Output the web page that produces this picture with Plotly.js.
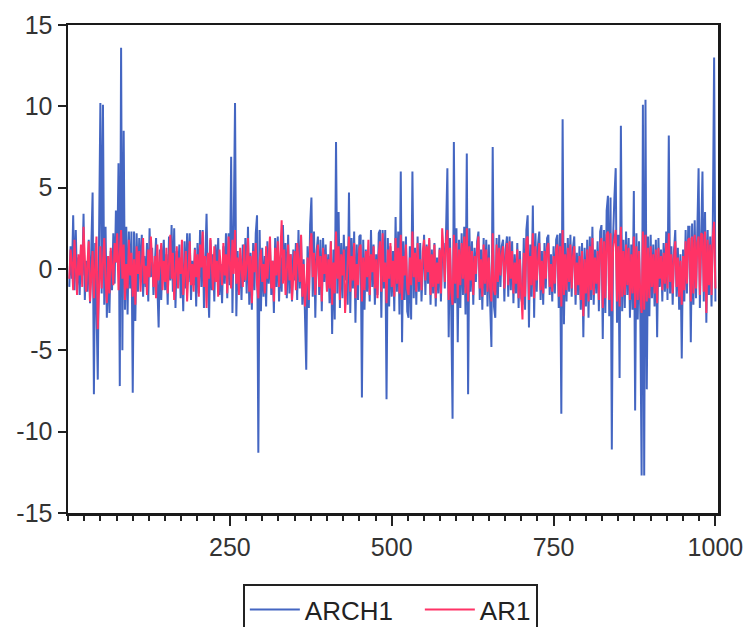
<!DOCTYPE html>
<html>
<head>
<meta charset="utf-8">
<script src="https://cdn.plot.ly/plotly-3.0.1.min.js"></script>
<style>
  html, body { margin: 0; padding: 0; background: #ffffff; }
  #chart { width: 751px; height: 627px; }
</style>
</head>
<body>
<div id="chart"></div>
<script>
// ARCH(1) simulated series, every second observation of 1..1000
const ARCH1 = [
  -1.1, 1.4, -0.6, 3.3, -1.3,  2.4, -1.0, 0.7, -1.6, 1.2,  -0.4, 3.4, -1.9, 0.5, -1.4,  1.8, -2.1, 0.9, 4.7, -7.7,  1.6, -2.4, -6.8, 2.1, 10.2,
  -1.5, 10.1, -2.2, 2.6, -3.0,  0.8, -2.7, 1.1, -1.3, 2.2,  -0.9, 3.6, 0.4, 6.5, -7.2,  13.6, -5.0, 8.5, -2.5, 2.6,  -2.8, 2.3, -1.2, 2.3, -7.6,
  2.3, -3.2, 2.2, -1.4, 1.9,  -0.6, 2.1, -1.7, 0.8, -1.1,  1.6, -2.0, 2.5, -0.5, 1.3,  -1.6, 0.4, 1.9, -1.0, -3.6,  1.2, -1.9, 0.7, 1.8, -1.3,
  0.9, -2.2, 2.0, -0.7, 2.7,  -1.4, 2.5, -2.4, 1.1, -0.3,  1.5, -1.8, 0.6, -2.6, 1.7,  -1.2, 2.2, -0.8, 2.2, -1.9,  0.5, -1.0, 1.3, -2.3, 1.6,
  -1.5, 2.4, -1.1, 2.4, -2.4,  1.2, 3.4, -0.6, -3.0, 1.8,  -1.3, 0.9, -2.0, 1.5, -0.7,  1.9, -1.6, 0.3, -2.1, 1.4,  -0.9, 2.2, -1.8, 2.2, -1.0,
  6.9, -2.7, 2.6, 10.2, -2.9,  1.1, -1.4, 0.6, -1.9, 1.5,  -0.8, 1.9, -1.5, 2.6, -2.2,  1.0, -2.5, 1.6, -1.3, 2.2,  3.3, -11.3, 2.4, -2.6, 1.3,
  -1.7, 0.8, -2.3, 1.7, -0.9,  1.4, -1.6, 0.5, -2.7, 1.9,  -1.1, 2.0, -2.0, 0.7, -1.4,  2.7, -0.6, 1.6, -1.8, 2.1,  -1.5, 0.9, -2.0, 1.2, -0.7,
  1.6, -1.9, 2.4, -1.2, 2.0,  -2.2, 0.6, -3.2, -6.2, 1.4,  -2.4, 2.7, 4.4, -1.7, 2.3,  -3.0, 1.1, 2.0, -1.6, 1.8,  -2.6, 1.9, -0.8, 1.5, -1.3,
  0.9, -2.1, 1.7, -4.0, 1.2,  -3.1, 7.8, -1.5, 3.5, -2.4,  1.6, -1.8, 2.1, -0.7, 1.4,  -2.2, 4.7, -2.7, 1.9, -1.2,  2.3, -3.3, 1.5, -1.9, 2.0,
  2.1, -7.9, 1.8, -2.5, 1.2,  -1.4, 0.8, -2.0, 2.4, -1.1,  1.5, -2.2, 0.9, -1.6, 2.2,  2.4, -3.0, 2.4, -1.2, 2.4,  -8.0, 1.9, -2.3, 1.4, -1.7,
  1.1, -2.6, 3.2, -1.4, 2.3,  -2.8, 6.0, -4.5, 1.7, -1.9,  2.0, -2.6, -3.0, 1.4, -3.1,  6.0, -1.8, 1.3, -2.2, 2.0,  -1.4, 1.6, -2.0, 0.8, 2.1,
  -1.6, 1.5, -0.9, 1.8, -2.2,  1.2, -1.5, 1.6, -2.3, 0.7,  -1.5, 1.3, -2.0, 0.9, 1.6,  -1.2, 2.4, 6.2, -4.2, 1.9,  -2.6, -9.2, 7.8, -2.1, 2.5,
  -4.5, 1.8, -2.4, 2.2, -1.6,  2.6, -2.8, 7.1, -7.7, 2.5,  -1.4, 1.7, -2.2, 1.3, -0.8,  1.7, 2.3, -1.9, 1.2, -2.5,  1.9, -1.6, 1.8, -2.3, 1.5,
  -2.0, -4.8, 7.5, -2.3, -3.0,  1.9, -1.8, 2.1, -1.1, 1.4,  1.8, -2.0, 1.2, 2.0, -1.7,  2.0, -1.3, 1.7, -2.1, 0.9,  -1.5, 1.6, -2.4, 1.1, -1.8,
  -2.2, 1.9, -2.5, 2.4, 3.3,  -3.6, 1.5, -1.7, 3.9, -3.0,  2.2, -1.4, 1.5, 2.3, -1.9,  1.1, -2.2, 1.6, -1.2, 1.9,  2.1, -1.6, 0.9, -2.0, 1.4,
  -1.5, 1.8, 2.1, -2.4, 2.2,  -8.9, 9.2, -3.4, 1.6, -2.0,  1.9, -1.4, 2.1, -1.7, 1.3,  2.0, -2.2, 1.0, -1.6, 1.4,  -2.5, 1.6, -4.2, 1.3, -2.3,
  1.8, -3.0, 2.0, -1.9, 2.6,  -2.2, 1.2, -1.5, 1.7, -2.6,  2.3, 2.7, -4.3, 2.4, -2.7,  3.6, 4.5, -2.9, 4.4, -11.1,  2.0, 4.4, 6.2, -3.3, 2.1,
  -6.7, 8.8, -2.6, 1.8, -2.4,  2.3, -1.6, 1.9, -3.0, 1.5,  -2.5, 4.8, -8.7, 2.2, -3.1,  1.7, -2.8, -12.7, 10.1, -12.7,  10.4, -7.4, 2.0, -2.9, 2.1,
  -1.8, 1.5, -2.3, 1.8, -4.2,  1.9, -1.1, 1.2, -2.0, 1.6,  -1.4, 2.3, -1.9, 8.2, -1.5,  1.4, -2.2, 1.1, 2.4, -1.7,  1.3, -2.5, 0.9, -5.5, 1.2,
  -2.0, 2.4, -1.5, 2.6, 2.6,  -4.5, 2.8, -2.2, 3.0, -1.8,  2.2, 6.2, -2.4, 3.1, 6.0,  -2.0, 3.5, -3.3, 2.4, -1.6,  2.0, -2.3, 2.7, 13.0, -2.0
];

// AR(1) simulated series, same observations
const AR1 = [
  -0.6, 1.2, 0.4, -1.3, 1.8,  0.2, -1.6, 0.9, -0.4, 1.5,  -1.1, 2.6, 0.8, -1.4, 0.3,  1.7, -2.0, -0.5, 1.1, -1.8,  0.6, 2.0, -3.7, -0.9, 1.4,
  -1.2, 0.5, 1.9, -0.7, -2.1,  0.8, -1.5, 1.3, 0.1, -1.0,  1.6, 0.4, 2.2, -1.3, 0.9,  2.4, -0.6, 1.5, -1.9, 0.3,  -1.2, 1.8, -0.4, 1.0, -1.7,
  0.6, -2.2, 1.4, -0.3, 1.1,  -1.4, 0.7, 1.9, -0.9, 0.2,  -1.6, 1.2, -0.5, 2.0, 0.4,  -1.1, 0.8, -1.8, 1.5, -0.7,  0.3, 1.6, -1.3, 0.5, -0.8,
  1.3, -1.5, 0.9, 2.1, -0.6,  1.0, -1.9, 0.4, 1.4, -1.2,  0.7, -0.3, 1.8, -1.6, 0.2,  1.1, -2.0, 0.6, 1.7, -1.0,  0.3, -1.4, 1.2, -0.5, 0.9,
  -1.7, 1.5, 0.1, 2.3, -1.1,  0.8, -2.4, 1.0, -0.6, 1.9,  0.3, -1.3, 1.4, -0.8, 0.5,  -1.7, 1.2, 0.2, -1.0, 1.6,  -0.4, 0.9, -1.5, 2.0, 0.6,
  -1.2, 1.8, -0.3, 2.4, -0.9,  0.7, -1.6, 1.3, 0.2, -1.1,  1.5, -0.7, 0.4, 1.9, -1.4,  0.8, -2.1, 1.1, -0.2, 1.6,  -1.0, -1.8, 0.5, 1.2, -0.8,
  0.3, -1.5, 1.4, -0.6, 1.0,  2.0, -1.2, 0.5, -2.0, 1.3,  -0.4, 1.7, -1.1, 0.6, 3.0,  -0.9, 1.2, -1.6, 0.4, 1.5,  -0.7, 0.9, -1.9, 0.2, 1.1,
  -1.3, 1.6, 0.5, -0.8, 2.1,  -1.7, 0.3, -2.3, -1.0, 0.7,  -1.9, 1.4, 2.2, -0.5, 1.0,  -1.6, 0.4, 1.5, -1.1, 0.8,  -2.0, 1.3, -0.3, 0.9, -1.4,
  0.6, -1.2, 1.7, -2.2, 0.4,  -1.5, 2.3, -0.6, 1.4, -1.9,  0.9, -0.4, 1.2, -2.7, -1.1,  0.5, 2.0, -1.4, 0.8, -0.7,  1.6, -1.8, 0.3, -1.0, 1.3,
  1.5, -2.0, 0.7, -1.3, 1.1,  -0.5, 1.8, -1.6, 0.9, -0.2,  1.4, -1.2, 0.6, -1.8, 1.0,  1.7, -1.4, 2.2, -0.8, 0.4,  -2.1, 1.2, -0.6, 1.6, -1.1,
  0.5, -1.7, 1.9, -0.9, 1.3,  -1.5, 2.1, -1.9, 0.8, -0.4,  1.5, -1.2, -1.6, 0.7, -1.0,  2.3, -0.5, 1.0, -1.4, 1.6,  -0.8, 0.6, -1.3, 1.1, 1.8,
  -0.7, 1.4, -0.2, 1.9, -1.6,  0.9, -1.1, 1.5, -1.8, 0.4,  -0.9, 1.2, -1.5, 2.5, 1.1,  -0.8, 1.7, 2.4, -1.9, 1.3,  -1.4, -2.2, 2.1, -0.9, 1.6,
  -1.8, 1.2, -1.0, 1.6, -0.6,  2.0, -1.5, 2.5, -2.0, 1.4,  -0.7, 1.1, -1.6, 0.8, -0.3,  1.3, 2.0, -1.2, 0.6, -1.7,  1.5, -0.9, 1.2, -1.4, 0.7,
  -1.1, -2.0, 2.2, -1.3, -1.6,  1.5, -0.8, 1.3, -0.4, 0.9,  1.4, -1.2, 0.5, 1.6, -1.0,  1.7, -0.6, 1.1, -1.5, 0.4,  -0.9, 1.2, -1.8, 0.6, -1.3,
  -3.1, 1.0, -1.7, 1.8, 2.0,  -1.9, 0.8, -1.0, 2.2, -1.8,  1.4, -0.7, 0.9, 1.6, -1.3,  0.5, -1.5, 1.1, -0.6, 1.3,  1.6, -1.1, 0.3, -1.4, 0.8,
  -0.9, 1.2, 1.5, -1.7, 1.4,  -2.3, 2.4, -1.6, 0.9, -1.3,  1.3, -0.8, 1.5, -1.2, 0.7,  1.4, -1.6, 0.4, -1.0, 0.8,  -1.9, 1.1, -2.9, 0.6, -1.5,
  1.2, -2.0, 1.4, -1.3, 1.9,  -1.6, 0.7, -0.9, 1.1, -1.9,  1.6, 1.9, -2.4, 1.7, -1.8,  2.1, 2.3, -1.9, 2.2, -2.6,  1.3, 2.0, 2.4, -2.0, 1.4,
  -2.3, 2.6, -1.7, 1.1, -1.6,  1.5, -1.0, 1.3, -1.9, 0.9,  -1.5, 2.0, -2.4, 1.4, -1.9,  1.1, -1.7, -2.7, 2.3, -2.5,  2.1, -2.0, 1.3, -1.8, 1.4,
  -1.1, 0.9, -1.5, 1.2, -2.1,  1.3, -0.6, 0.8, -1.3, 1.0,  -0.9, 1.6, -1.2, 2.2, -0.8,  0.9, -1.5, 0.6, 1.7, -1.1,  0.7, -1.7, 0.5, -2.2, 0.8,
  -1.3, 1.7, -0.9, 1.8, 1.9,  -2.0, 2.0, -1.5, 2.1, -1.2,  1.6, 2.0, -1.6, 2.2, 2.1,  -1.4, 2.3, -2.7, 1.8, -1.0,  1.5, -1.6, 2.0, 2.9, -1.2
];

// tick positions and labels
const xTickVals = [250, 500, 750, 1000];
const xTickText = ['250', '500', '750', '1000'];
const yTickVals = [-15, -10, -5, 0, 5, 10, 15];
const yTickText = ['-15', '-10', '-5', '0', '5', '10', '15'];

// observation number for each stored value
const obs = n => Array.from({ length: n }, (_, i) => (i + 1) * 1000 / n);

const traces = [
  {
    type: 'scatter', mode: 'lines', name: 'ARCH1',
    x: obs(ARCH1.length), y: ARCH1,
    line: { color: '#4466C2', width: 2 },
    legendwidth: 110
  },
  {
    type: 'scatter', mode: 'lines', name: 'AR1',
    x: obs(AR1.length), y: AR1,
    line: { color: '#FF3366', width: 2 }
  }
];

const axisFont = { family: 'Liberation Sans, Arial, sans-serif', size: 25, color: '#333333' };

const layout = {
  width: 751, height: 627,
  margin: { l: 68, r: 33, t: 25, b: 114, autoexpand: false },
  paper_bgcolor: '#ffffff', plot_bgcolor: '#ffffff',
  showlegend: true,
  legend: {
    orientation: 'h',
    x: 0.269, xanchor: 'left',
    y: -0.1455, yanchor: 'top',
    bordercolor: '#222222', borderwidth: 2,
    font: { family: 'Liberation Sans, Arial, sans-serif', size: 26, color: '#222222' },
    itemwidth: 50
  },
  xaxis: {
    range: [0, 1004],
    tickmode: 'array', tickvals: xTickVals, ticktext: xTickText,
    ticks: 'outside', ticklen: 10, tickwidth: 2, tickcolor: '#222222',
    minor: { tickmode: 'linear', tick0: 0, dtick: 25, ticks: 'outside', ticklen: 5, tickwidth: 2, tickcolor: '#222222' },
    showline: true, linecolor: '#1a1a1a', linewidth: 2.5, mirror: true,
    showgrid: false, zeroline: false,
    tickfont: axisFont
  },
  yaxis: {
    range: [-15, 15],
    tickmode: 'array', tickvals: yTickVals, ticktext: yTickText,
    ticks: 'outside', ticklen: 8, tickwidth: 2, tickcolor: '#222222',
    showline: true, linecolor: '#1a1a1a', linewidth: 2.5, mirror: true,
    showgrid: false, zeroline: false,
    tickfont: axisFont
  }
};

Plotly.newPlot('chart', traces, layout, { displayModeBar: false, staticPlot: true });
</script>
</body>
</html>
